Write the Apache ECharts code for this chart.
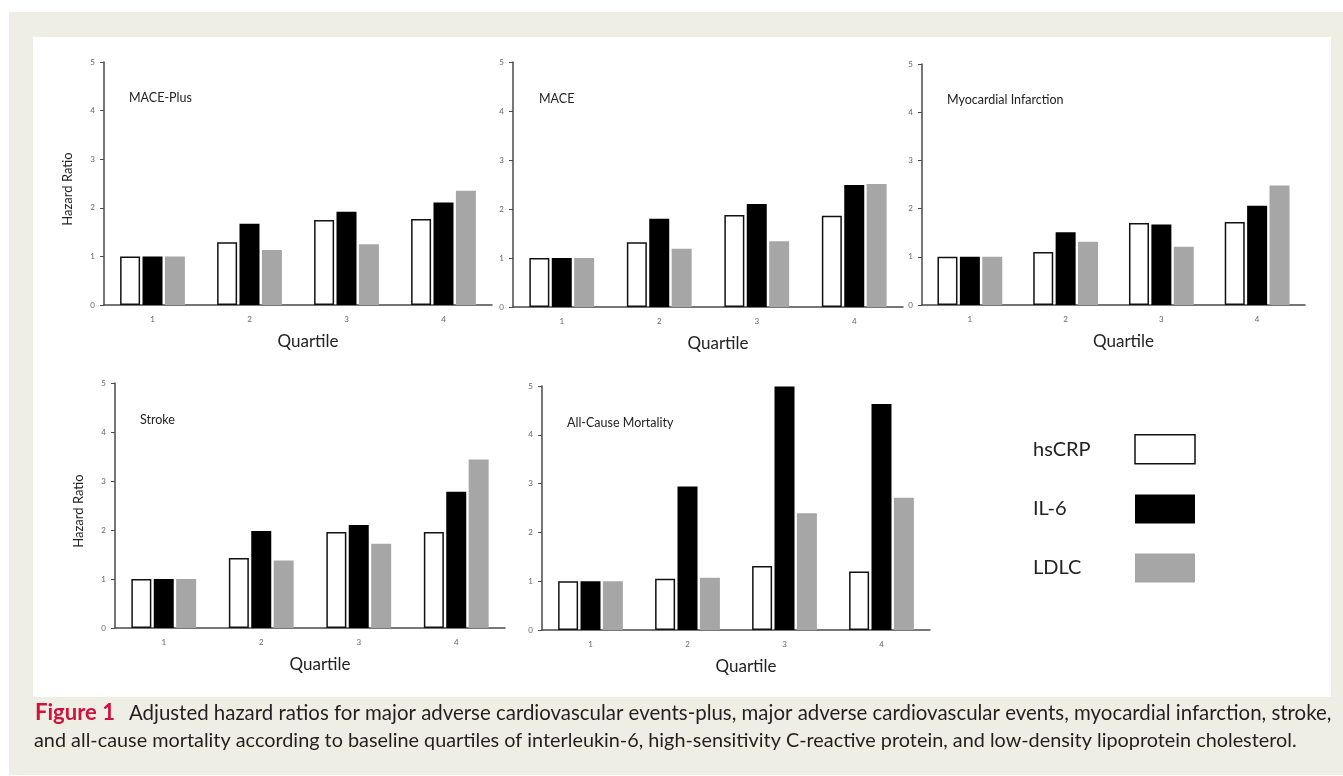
<!DOCTYPE html>
<html>
<head>
<meta charset="utf-8">
<script src="https://cdn.jsdelivr.net/npm/echarts@6/dist/echarts.min.js"></script>
<style>
html,body{margin:0;padding:0;background:#fff;}
#wrap{position:relative;width:1343px;height:776px;overflow:hidden;background:#fff;}
#beige{position:absolute;left:9px;top:12px;width:1334px;height:763px;background:#efeee4;}
#white{position:absolute;left:33px;top:37px;width:1298px;height:660px;background:#fff;}
#c{position:absolute;left:0;top:0;width:1343px;height:776px;}
</style>
</head>
<body>
<div id="wrap"><div id="beige"></div><div id="white"></div><div id="c"></div></div>
<script>
// ---- data ----
const categories = ['1', '2', '3', '4'];
const seriesNames = ['hsCRP', 'IL-6', 'LDLC'];
const panelTitles = ['MACE-Plus', 'MACE', 'Myocardial Infarction', 'Stroke', 'All-Cause Mortality'];
const yMin = 0, yMax = 5, yStep = 1;

const macePlusHsCRP = [1.00, 1.29, 1.75, 1.77];
const macePlusIL6   = [1.00, 1.67, 1.92, 2.11];
const macePlusLDLC  = [1.00, 1.13, 1.25, 2.35];

const maceHsCRP = [1.00, 1.32, 1.88, 1.86];
const maceIL6   = [1.00, 1.80, 2.10, 2.49];
const maceLDLC  = [1.00, 1.19, 1.34, 2.51];

const miHsCRP = [1.00, 1.10, 1.70, 1.72];
const miIL6   = [1.00, 1.51, 1.67, 2.06];
const miLDLC  = [1.00, 1.31, 1.21, 2.48];

const strokeHsCRP = [1.00, 1.43, 1.96, 1.96];
const strokeIL6   = [1.00, 1.98, 2.10, 2.78];
const strokeLDLC  = [1.00, 1.38, 1.72, 3.44];

const acmHsCRP = [1.00, 1.05, 1.31, 1.20];
const acmIL6   = [1.00, 2.94, 4.99, 4.63];
const acmLDLC  = [1.00, 1.07, 2.39, 2.71];

const captionLead = 'Figure 1';
const captionLine1 = 'Adjusted hazard ratios for major adverse cardiovascular events-plus, major adverse cardiovascular events, myocardial infarction, stroke,';
const captionLine2 = 'and all-cause mortality according to baseline quartiles of interleukin-6, high-sensitivity C-reactive protein, and low-density lipoprotein cholesterol.';

// ---- layout / style ----
const panelData = [
  [macePlusHsCRP, macePlusIL6, macePlusLDLC],
  [maceHsCRP, maceIL6, maceLDLC],
  [miHsCRP, miIL6, miLDLC],
  [strokeHsCRP, strokeIL6, strokeLDLC],
  [acmHsCRP, acmIL6, acmLDLC]
];
const panels = [
  {left: 104, top: 62, width: 388, height: 243, yName: 'Hazard Ratio', tl: 129, tt: 91},
  {left: 513, top: 62, width: 390, height: 245, yName: '', tl: 539, tt: 92},
  {left: 922, top: 64, width: 383, height: 241, yName: '', tl: 947, tt: 93},
  {left: 115, top: 383, width: 390, height: 245, yName: 'Hazard Ratio', tl: 140, tt: 413},
  {left: 542, top: 386, width: 388, height: 244, yName: '', tl: 567, tt: 416}
];
const FONT = 'Lato, "Open Sans", sans-serif';
const itemStyles = [
  {color: '#ffffff', borderColor: '#111', borderWidth: 1.5},
  {color: '#000000'},
  {color: '#a6a6a6'}
];
const axisColor = '#4a4a4a';

const grid = [], xAxis = [], yAxis = [], series = [], title = [];
panels.forEach((p, i) => {
  grid.push({left: p.left, top: p.top, width: p.width, height: p.height, containLabel: false});
  title.push({text: panelTitles[i], left: p.tl, top: p.tt, padding: 0,
    textStyle: {fontFamily: FONT, fontSize: 12.5, fontWeight: 'normal', color: '#222'}});
  xAxis.push({
    type: 'category', gridIndex: i, data: categories,
    axisLine: {lineStyle: {color: axisColor, width: 1.5}},
    axisTick: {show: false},
    axisLabel: {fontFamily: FONT, fontSize: 8, color: '#666', margin: 10},
    name: 'Quartile', nameLocation: 'middle', nameGap: 28,
    nameTextStyle: {fontFamily: FONT, fontSize: 17, color: '#222', padding: [0, 0, 0, 20]}
  });
  yAxis.push({
    type: 'value', gridIndex: i, min: yMin, max: yMax, interval: yStep,
    axisLine: {show: true, lineStyle: {color: axisColor, width: 1.5}},
    axisTick: {show: true, length: 4, lineStyle: {color: axisColor, width: 1}},
    splitLine: {show: false},
    axisLabel: {fontFamily: FONT, fontSize: 8, color: '#666', margin: 9},
    name: p.yName, nameLocation: 'middle', nameGap: 30,
    nameTextStyle: {fontFamily: FONT, fontSize: 13, color: '#222', padding: [0, 11, 0, 0]}
  });
  panelData[i].forEach((vals, j) => {
    series.push({
      type: 'bar', name: seriesNames[j], xAxisIndex: i, yAxisIndex: i,
      data: vals, barWidth: 20, barGap: '12%', barCategoryGap: '20%',
      itemStyle: itemStyles[j], emphasis: {disabled: true}, animation: false
    });
  });
});

// caption font sizes fitted to the measured line widths
function measure(txt, font) {
  const ctx = document.createElement('canvas').getContext('2d');
  ctx.font = font; return ctx.measureText(txt).width;
}
const base = 18;
const wLead = measure(captionLead, 'bold ' + (base * 1.08) + 'px Lato');
const wRest = measure(captionLine1, base + 'px Lato');
const capSize1 = base * (1297 - 14) / (wLead + wRest);
const capSize2 = base * 1264 / measure(captionLine2, base + 'px Lato');

const option = {
  animation: false,
  textStyle: {fontFamily: FONT},
  title: title,
  grid: grid, xAxis: xAxis, yAxis: yAxis, series: series,
  legend: {
    orient: 'vertical', left: 1028, top: 429, align: 'right',
    itemWidth: 60, itemHeight: 29, itemGap: 30, icon: 'rect',
    selectedMode: false,
    formatter: name => '{a|' + name + '}',
    textStyle: {
      fontFamily: FONT, fontSize: 20, color: '#222',
      rich: {a: {width: 97, align: 'left', fontFamily: FONT, fontSize: 20, color: '#222'}}
    },
    data: seriesNames.map((n, j) => ({name: n, itemStyle: itemStyles[j]}))
  },
  graphic: [
    {type: 'text', left: 35, top: 715 - capSize1 * 0.62,
      style: {
        text: '{r|' + captionLead + '}{g|}' + captionLine1,
        fontFamily: 'Lato', fontSize: capSize1, fill: '#231f20',
        rich: {
          r: {fontFamily: 'Lato', fontWeight: 'bold', fontSize: capSize1 * 1.08, fill: '#cf1140'},
          g: {width: 14}
        }
      }},
    {type: 'text', left: 34, top: 743 - capSize2 * 0.62,
      style: {text: captionLine2, fontFamily: 'Lato', fontSize: capSize2, fill: '#231f20'}}
  ]
};
const chart = echarts.init(document.getElementById('c'), null, {renderer: 'canvas'});
chart.setOption(option);
</script>
</body>
</html>
